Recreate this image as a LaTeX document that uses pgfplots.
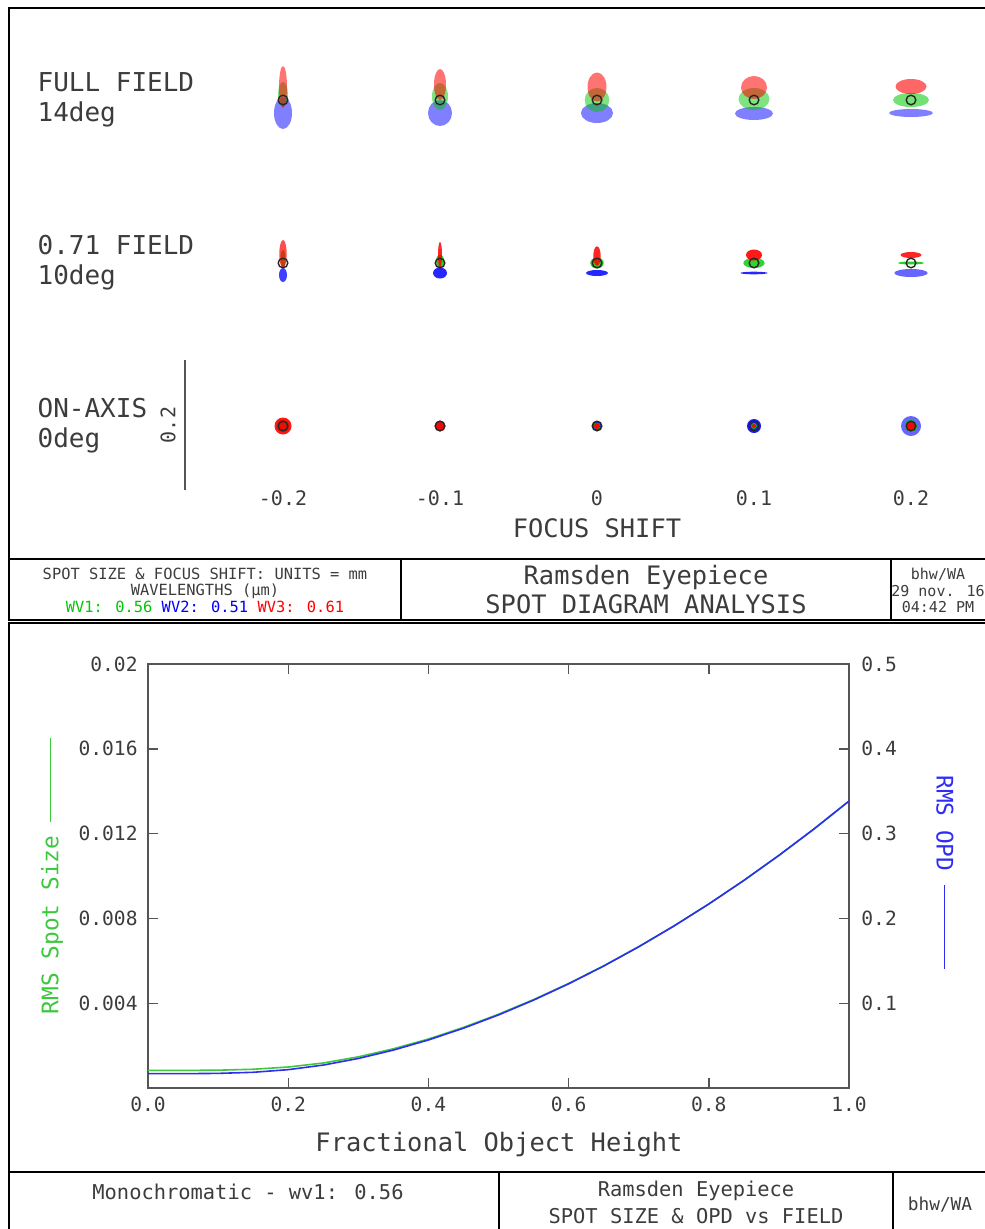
\documentclass[border=0pt]{standalone}
\usepackage{pgfplots}
\pgfplotsset{compat=1.18}
\usepackage{pgfplotstable}
\usepackage{fontspec}
\setmainfont{DejaVu Sans Mono}

\definecolor{txt}{RGB}{60,60,60}
\definecolor{axln}{RGB}{85,85,85}
\definecolor{spR}{RGB}{255,0,0}
\definecolor{spG}{RGB}{0,200,0}
\definecolor{spB}{RGB}{0,0,255}
\definecolor{lnG}{RGB}{60,200,60}
\definecolor{lnB}{RGB}{45,45,245}

% spot blobs: x = focus shift (mm), y = page position (px), rx/ry = half sizes (px)
\pgfplotstableread{
x     y     rx    ry    op
-0.2  113   9     16    0.50
-0.1  113   12    13    0.50
0     113   16    10    0.50
0.1   113.5 19    6.5   0.50
0.2   113   22    4     0.50
-0.2  275   4     7     0.75
-0.1  273   7     5.5   0.85
0     273   11    3     0.85
0.1   273   13.7  1.3   0.85
0.2   273   16.7  4     0.60
-0.2  426   5     5     0.90
-0.1  426   4     4     0.90
0     426   5     5     0.90
0.1   426   7     7     0.90
0.2   426   10    10    0.60
}\spotblue
\pgfplotstableread{
x     y     rx    ry    op
-0.2  94.5  5     12.5  0.50
-0.1  96.5  8     13.5  0.50
0     100   12.3  12    0.50
0.1   99    15.5  11    0.50
0.2   100   18    7     0.55
-0.2  259   2.5   9     0.75
-0.1  261   4     6.5   0.85
0     263   6.7   5.5   0.85
0.1   263   10.7  5     0.80
0.2   263   13    1.5   0.85
-0.2  426   6.5   6.5   0.90
-0.1  426   4.5   4.5   0.90
0     426   3.5   3.5   0.90
0.1   426   3     3     0.90
0.2   426   6     6     0.90
}\spotgreen
\pgfplotstableread{
x     y     rx    ry    op
-0.2  87    4     21    0.55
-0.1  84.5  6     15.5  0.55
0     87    9.5   14.5  0.55
0.1   87.5  13    11.5  0.55
0.2   86.5  15.5  7.5   0.60
-0.2  254   3.7   14    0.70
-0.1  255   2     13    0.85
0     256   3.7   9.7   0.85
0.1   255   8     5.5   0.90
0.2   255   10.5  3     0.85
-0.2  426   8.5   8.5   0.90
-0.1  426   5.5   5.5   0.95
0     426   3     3     0.95
0.1   426   2     2     0.95
0.2   426   5     5     0.95
}\spotred
\pgfplotstableread{
x     y
-0.2  100
-0.1  100
0     100
0.1   100
0.2   100
-0.2  263
-0.1  263
0     263
0.1   263
0.2   263
-0.2  426
-0.1  426
0     426
0.1   426
0.2   426
}\airy

% RMS spot size (mm) and RMS OPD (waves) vs fractional object height
\pgfplotstableread{
h     rms
0.00  0.00083
0.05  0.00083
0.10  0.000841
0.15  0.000884
0.20  0.00099
0.25  0.00118
0.30  0.00147
0.35  0.00185
0.40  0.00231
0.45  0.00286
0.50  0.00348
0.55  0.00417
0.60  0.00493
0.65  0.00576
0.70  0.00667
0.75  0.00764
0.80  0.00868
0.85  0.00979
0.90  0.01097
0.95  0.01221
1.00  0.01353
}\spotsize
\pgfplotstableread{
h     opd
0.00  0.0169
0.05  0.0169
0.10  0.01724
0.15  0.01853
0.20  0.02164
0.25  0.02705
0.30  0.0348
0.35  0.04472
0.40  0.05666
0.45  0.0705
0.50  0.08617
0.55  0.10364
0.60  0.12285
0.65  0.1438
0.70  0.16648
0.75  0.19088
0.80  0.21698
0.85  0.24479
0.90  0.2743
0.95  0.30552
1.00  0.33842
}\opd

\pgfplotsset{
  spot/.style={scatter, only marks, mark=*, mark size=0.5pt,
    visualization depends on={\thisrow{rx}\as\spotrx},
    visualization depends on={\thisrow{ry}\as\spotry},
    visualization depends on={\thisrow{op}\as\spotop},
    scatter/use mapped color={draw=#1, fill=#1},
    scatter/@pre marker code/.append style={/tikz/xscale=\spotrx, /tikz/yscale=\spotry,
      /utils/exec={\pgfsetfillopacity{\spotop}\pgfsetstrokeopacity{0}}}},
}

\newcommand{\fs}[1]{\fontsize{#1}{#1}\selectfont}

\begin{document}
\begin{tikzpicture}
\begin{scope}[x=0.5pt,y=-0.5pt, line width=0.6pt]
  % frames
  \draw (1000,8) -- (9,8) -- (9,620) -- (1000,620);
  \draw (9,559) -- (1000,559);
  \draw (401,559) -- (401,620);
  \draw (891,559) -- (891,620);
  \draw (1000,623) -- (9,623) -- (9,1240);
  \draw (9,1172) -- (1000,1172);
  \draw (499,1172) -- (499,1240);
  \draw (893,1172) -- (893,1240);
  % field labels
  \begin{scope}[every node/.style={anchor=west, inner sep=0pt, text=txt, font=\fs{13}}]
    \node at (37,82) {FULL FIELD};
    \node at (37,114) {14deg};
    \node at (37,245) {0.71 FIELD};
    \node at (37,277) {10deg};
    \node at (37,408) {ON-AXIS};
    \node at (37,440) {0deg};
  \end{scope}
  % scale bar
  \draw[axln, line width=0.7pt] (185,360) -- (185,490);
  \node[rotate=90, text=txt, font=\fs{10}, inner sep=0pt] at (168,425) {0.2};
  % title block 1
  \begin{scope}[every node/.style={inner sep=0pt, text=txt}]
    \node[font=\fs{7.7}] at (205,574) {SPOT SIZE \& FOCUS SHIFT: UNITS = mm};
    \node[font=\fs{7.7}] at (205,591) {WAVELENGTHS (μm)};
    \node[font=\fs{7.7}] at (205,607) {{\color{spG}WV1: 0.56} {\color{spB}WV2: 0.51} {\color{spR}WV3: 0.61}};
    \node[font=\fs{12.7}] at (646,577) {Ramsden Eyepiece};
    \node[font=\fs{12.7}] at (646,604) {SPOT DIAGRAM ANALYSIS};
    \node[font=\fs{7.5}] at (938,574) {bhw/WA};
    \node[font=\fs{7.5}] at (938,591) {29 nov. 16};
    \node[font=\fs{7.5}] at (938,607) {04:42 PM};
    % title block 2
    \node[font=\fs{10.2}] at (248,1192) {Monochromatic - wv1: 0.56};
    \node[font=\fs{10.2}] at (696,1191) {Ramsden Eyepiece};
    \node[font=\fs{10.2}] at (696,1216) {SPOT SIZE \& OPD vs FIELD};
    \node[font=\fs{8.9}] at (940,1205) {bhw/WA};
  \end{scope}
\end{scope}

% spot diagrams
\begin{axis}[
    scale only axis, width=314pt, height=215pt,
    at={(141.5pt,-30pt)}, anchor=north west,
    xmin=-0.2, xmax=0.2, ymin=60, ymax=490, y dir=reverse,
    clip=false, axis line style={draw=none}, major tick length=0pt,
    ytick=\empty,
    xtick={-0.2,-0.1,0,0.1,0.2}, xticklabels={-0.2,-0.1,0,0.1,0.2},
    xticklabel style={anchor=center, yshift=-4pt, inner sep=0pt, text=txt, font=\fs{10}},
    xlabel={FOCUS SHIFT},
    xlabel style={at={(axis description cs:0.5,-0.0884)}, anchor=center, inner sep=0pt, text=txt, font=\fs{12.7}},
  ]
  \addplot[spot=spB] table[x=x, y=y] {\spotblue};
  \addplot[spot=spG] table[x=x, y=y] {\spotgreen};
  \addplot[spot=spR] table[x=x, y=y] {\spotred};
  \addplot[only marks, mark=o, mark size=2.4pt, mark options={draw=black!85, line width=0.7pt}] table[x=x, y=y] {\airy};
\end{axis}

% RMS spot size vs field
\begin{axis}[
    scale only axis, width=350.5pt, height=212pt,
    at={(74pt,-332pt)}, anchor=north west,
    xmin=0, xmax=1, ymin=0, ymax=0.02,
    scaled y ticks=false,
    axis line style={axln, line width=0.7pt},
    tick style={axln, line width=0.7pt}, tick align=inside, major tick length=5pt,
    xtick pos=both, ytick pos=left,
    xtick={0,0.2,0.4,0.6,0.8,1}, xticklabels={0.0,0.2,0.4,0.6,0.8,1.0},
    ytick={0.004,0.008,0.012,0.016,0.02}, yticklabels={0.004,0.008,0.012,0.016,0.02},
    xticklabel style={anchor=center, yshift=-8pt, inner sep=0pt, text=txt, font=\fs{9.8}},
    yticklabel style={anchor=east, xshift=-5pt, inner sep=0pt, text=txt, font=\fs{9.8}},
    xlabel={Fractional Object Height},
    xlabel style={at={(axis description cs:0.5007,-0.1344)}, anchor=center, inner sep=0pt, text=txt, font=\fs{12.7}},
    ylabel={RMS Spot Size \rule[0.33em]{42pt}{0.5pt}},
    ylabel style={at={(axis description cs:-0.137,0.5)}, anchor=center, rotate=0, inner sep=0pt, text=lnG, font=\fs{11.4}},
  ]
  \addplot[lnG, line width=0.8pt] table[x=h, y=rms] {\spotsize};
\end{axis}
\begin{axis}[
    scale only axis, width=350.5pt, height=212pt,
    at={(74pt,-332pt)}, anchor=north west,
    xmin=0, xmax=1, ymin=0, ymax=0.5,
    hide x axis, axis y line*=right,
    axis line style={axln, line width=0.7pt},
    tick style={axln, line width=0.7pt}, tick align=inside, major tick length=5pt,
    ytick={0.1,0.2,0.3,0.4,0.5}, yticklabels={0.1,0.2,0.3,0.4,0.5},
    yticklabel style={anchor=west, xshift=6pt, inner sep=0pt, text=txt, font=\fs{9.8}},
    ylabel={RMS OPD \rule[0.33em]{42pt}{0.5pt}},
    ylabel style={at={(axis description cs:1.137,0.509)}, anchor=center, rotate=-180, inner sep=0pt, text=lnB, font=\fs{11.4}},
  ]
  \addplot[lnB, line width=0.8pt] table[x=h, y=opd] {\opd};
\end{axis}

\pgfresetboundingbox
\path[use as bounding box] (0,0) rectangle (492pt,-614.5pt);
\end{tikzpicture}
\end{document}
